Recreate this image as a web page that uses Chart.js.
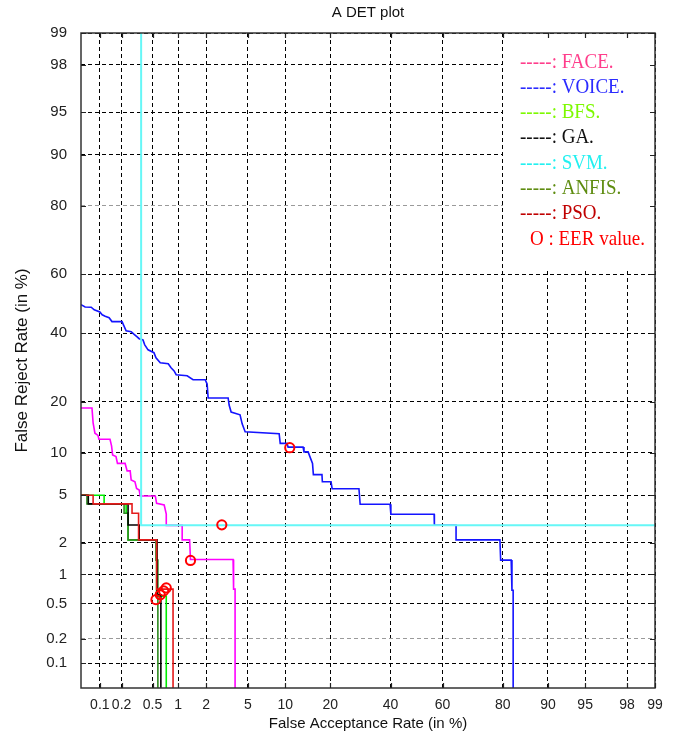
<!DOCTYPE html>
<html><head><meta charset="utf-8">
<script src="https://cdn.jsdelivr.net/npm/chart.js@4.4.1/dist/chart.umd.min.js"></script>
<style>html,body{margin:0;padding:0;background:#fff;}#wrap{width:676px;height:738px;position:relative;}</style>
</head><body><div id="wrap"><canvas id="c" width="676" height="738"></canvas></div>
<script>
// ---- tick values (percent) and labels ----
const tickPct = [0.1, 0.2, 0.5, 1, 2, 5, 10, 20, 40, 60, 80, 90, 95, 98, 99];
const tickLabels = ['0.1','0.2','0.5','1','2','5','10','20','40','60','80','90','95','98','99'];
const axisMinX = 0.053, axisMinY = 0.048, axisMax = 99;

// ---- series (False Acceptance %, False Reject %) ----
const seriesNames = ['FACE', 'VOICE', 'BFS', 'GA', 'SVM', 'ANFIS', 'PSO'];

const faceFar = [0.053,0.077,0.080,0.085,0.094,0.097,0.139,0.146,0.151,0.168,0.176,0.223,0.237,0.26,0.268,0.30,0.315,0.34,0.35,0.54,0.56,0.69,0.73,0.73,1.11,1.11,1.34,1.37,3.67,3.71,3.83,3.83];
const faceFrr = [18.5,18.5,15.3,13.3,12.9,12.2,12.2,11.1,9.7,9.45,8.5,8.5,7.55,7.55,6.5,6.3,5.62,5.48,4.93,4.93,4.32,4.19,3.54,2.84,2.84,2.12,2.12,1.40,1.40,0.71,0.71,0.048];

const voiceFar = [0.053,0.061,0.075,0.083,0.10,0.108,0.119,0.135,0.148,0.203,0.212,0.23,0.268,0.293,0.32,0.34,0.38,0.40,0.44,0.52,0.55,0.62,0.77,0.83,0.90,0.95,1.26,1.46,1.96,2.05,2.1,3.3,3.37,3.52,4.25,4.44,4.72,9.0,9.17,10.3,10.5,13.4,13.6,14.5,14.9,15.5,15.7,17.8,17.9,20.2,20.5,28.7,29.1,39.8,40.1,56.8,56.9,65.0,65.0,79.2,79.4,82.2,82.4,82.7,82.7];
const voiceFrr = [49.7,48.9,48.8,47.9,47.2,46.2,45.7,45.2,43.9,43.9,42.8,40.8,40.5,39.6,38.8,38.2,37.8,36.2,34.6,33.7,32.1,30.6,30.3,29.1,28.2,27.1,26.8,25.7,25.7,24.5,20.9,20.9,19.2,17.6,17.0,15.1,13.55,13.2,11.5,11.5,10.9,10.9,10.15,10.15,9.45,8.5,7.1,7.1,6.3,6.3,5.6,5.6,4.24,4.24,3.52,3.52,2.85,2.85,2.12,2.12,1.38,1.38,0.69,0.69,0.048];

const bfsFar = [0.053,0.115,0.115,0.23,0.23,0.244,0.244,0.56,0.56,0.73,0.73];
const bfsFrr = [4.99,4.99,4.27,4.27,3.59,3.59,2.12,2.12,0.60,0.60,0.048];

const gaFar = [0.053,0.068,0.068,0.244,0.244,0.34,0.34,0.567,0.567,0.63,0.63];
const gaFrr = [4.99,4.99,4.27,4.27,2.86,2.86,2.12,2.12,0.62,0.62,0.048];

const svmFar = [0.36, 0.36, 99];
const svmFrr = [99, 2.85, 2.85];

const anfisFar = [0.053,0.065,0.065,0.216,0.216,0.244,0.244,0.55,0.55,0.58,0.58];
const anfisFrr = [4.99,4.99,4.27,4.27,3.59,3.59,2.12,2.12,1.38,1.38,0.048];

const psoFar = [0.053,0.08,0.08,0.275,0.275,0.334,0.334,0.56,0.56,0.875,0.875];
const psoFrr = [4.99,4.99,4.27,4.27,3.59,3.59,2.12,2.12,0.71,0.71,0.048];

// Equal error rate points (x = y)
const eerValues = [10.8, 2.87, 1.37, 0.55, 0.62, 0.68, 0.73];

// ---- styles ----
const lineColors = {FACE:'#ff00ff', VOICE:'#1414ff', BFS:'#00ee00', GA:'#000000', SVM:'#66f7f7', ANFIS:'#2d8a1f', PSO:'#e41c1c'};
const legendColors = {FACE:'#ff3d8b', VOICE:'#2a2aff', BFS:'#7df900', GA:'#111111', SVM:'#22f0f0', ANFIS:'#5e8c10', PSO:'#c00000'};

// inverse normal CDF (Acklam)
function probit(p){
  const a=[-3.969683028665376e+01,2.209460984245205e+02,-2.759285104469687e+02,1.383577518672690e+02,-3.066479806614716e+01,2.506628277459239e+00];
  const b=[-5.447609879822406e+01,1.615858368580409e+02,-1.556989798598866e+02,6.680131188771972e+01,-1.328068155288572e+01];
  const c=[-7.784894002430293e-03,-3.223964580411365e-01,-2.400758277161838e+00,-2.549732539343734e+00,4.374664141464968e+00,2.938163982698783e+00];
  const d=[7.784695709041462e-03,3.224671290700398e-01,2.445134137142996e+00,3.754408661907416e+00];
  const pl=0.02425, ph=1-pl; let q,r;
  if(p<pl){q=Math.sqrt(-2*Math.log(p));return (((((c[0]*q+c[1])*q+c[2])*q+c[3])*q+c[4])*q+c[5])/((((d[0]*q+d[1])*q+d[2])*q+d[3])*q+1);}
  if(p<=ph){q=p-0.5;r=q*q;return (((((a[0]*r+a[1])*r+a[2])*r+a[3])*r+a[4])*r+a[5])*q/(((((b[0]*r+b[1])*r+b[2])*r+b[3])*r+b[4])*r+1);}
  q=Math.sqrt(-2*Math.log(1-p));return -(((((c[0]*q+c[1])*q+c[2])*q+c[3])*q+c[4])*q+c[5])/((((d[0]*q+d[1])*q+d[2])*q+d[3])*q+1);
}
const P = pct => probit(pct/100);
const pts = (xs, ys) => xs.map((v,i) => ({x:P(v), y:P(ys[i])}));

const seriesData = {
  FACE:[faceFar,faceFrr], VOICE:[voiceFar,voiceFrr], BFS:[bfsFar,bfsFrr], GA:[gaFar,gaFrr],
  SVM:[svmFar,svmFrr], ANFIS:[anfisFar,anfisFrr], PSO:[psoFar,psoFrr]
};
const drawOrder = {SVM:1, PSO:2, GA:3, ANFIS:4, BFS:5, FACE:6, VOICE:7};

const datasets = seriesNames.map(n => ({
  label: n,
  data: pts(seriesData[n][0], seriesData[n][1]),
  showLine: true,
  borderColor: lineColors[n],
  backgroundColor: lineColors[n],
  borderWidth: n === 'SVM' ? 2 : 1.6,
  pointRadius: 0,
  tension: 0,
  order: drawOrder[n]
}));
datasets.push({
  label: 'EER',
  data: pts(eerValues, eerValues),
  showLine: false,
  pointRadius: 4.6,
  pointStyle: 'circle',
  pointBorderColor: '#ff0000',
  pointBackgroundColor: 'rgba(0,0,0,0)',
  pointBorderWidth: 2,
  borderColor: '#ff0000',
  backgroundColor: 'rgba(0,0,0,0)',
  order: 0
});

const grayYTicks = [80, 0.2];

const detPlugin = {
  id: 'detDecor',
  afterDatasetsDraw(chart){
    const {ctx, chartArea: a, scales: {x, y}} = chart;
    ctx.save();
    // legend box (opaque, covers grid)
    ctx.fillStyle = '#ffffff';
    ctx.fillRect(a.right - 152, a.top + 1, 151, 234);
    const stretched = (t, px, py) => { ctx.save(); ctx.translate(px, py); ctx.scale(1, 1.12); ctx.fillText(t, 0, 0); ctx.restore(); };
    ctx.font = '19px "Liberation Serif", "Times New Roman", serif';
    ctx.textBaseline = 'middle'; ctx.textAlign = 'left';
    seriesNames.forEach((n, i) => {
      ctx.fillStyle = legendColors[n];
      stretched('-----: ' + n + '.', a.right - 135, a.top + 29 + 25.3 * i);
    });
    ctx.fillStyle = '#ff0000';
    stretched('O : EER value.', a.right - 125, a.top + 29 + 25.3 * 7);
    // frame
    ctx.strokeStyle = '#333'; ctx.lineWidth = 1.5; ctx.setLineDash([]);
    ctx.strokeRect(a.left, a.top, a.right - a.left, a.bottom - a.top);
    // inward tick marks on all four sides
    ctx.lineWidth = 1.2; ctx.strokeStyle = '#222';
    ctx.beginPath();
    tickPct.forEach(v => {
      const px = Math.round(x.getPixelForValue(P(v))) + 0.5;
      ctx.moveTo(px, a.bottom); ctx.lineTo(px, a.bottom - 5);
      ctx.moveTo(px, a.top); ctx.lineTo(px, a.top + 5);
      const py = Math.round(y.getPixelForValue(P(v))) + 0.5;
      ctx.moveTo(a.left, py); ctx.lineTo(a.left + 5, py);
      ctx.moveTo(a.right, py); ctx.lineTo(a.right - 5, py);
    });
    ctx.stroke();
    ctx.restore();
  }
};

const fam = '"Liberation Sans", Arial, sans-serif';

new Chart(document.getElementById('c'), {
  type: 'scatter',
  data: {datasets},
  plugins: [detPlugin],
  options: {
    responsive: false,
    animation: false,
    layout: {padding: {left: 0, right: 21, top: 0, bottom: 0}},
    plugins: {
      legend: {display: false},
      tooltip: {enabled: false},
      title: {display: true, text: 'A DET plot', fullSize: false, color: '#111',
        font: {family: fam, size: 15, weight: 'normal'},
        padding: {top: 4, bottom: 11}}
    },
    scales: {
      x: {
        type: 'linear', min: P(axisMinX), max: P(axisMax),
        afterBuildTicks: s => { s.ticks = tickPct.map(v => ({value: P(v)})); },
        afterFit: s => { s.height = 50; },
        ticks: {autoSkip: false, maxRotation: 0, minRotation: 0, padding: 9, color: '#222', font: {family: fam, size: 14},
          callback: (v, i) => tickLabels[i]},
        grid: {color: '#000', lineWidth: 1, drawTicks: false},
        border: {display: false, dash: [4, 3]},
        title: {display: true, text: 'False Acceptance Rate (in %)', color: '#111',
          font: {family: fam, size: 15}, padding: {top: 0, bottom: 5}}
      },
      y: {
        type: 'linear', min: P(axisMinY), max: P(axisMax),
        afterBuildTicks: s => { s.ticks = tickPct.map(v => ({value: P(v)})); },
        afterFit: s => { s.width = 81; },
        ticks: {autoSkip: false, padding: 14, color: '#222', font: {family: fam, size: 15},
          callback: (v, i) => tickLabels[i]},
        grid: {color: c => (c.tick && grayYTicks.some(g => Math.abs(P(g) - c.tick.value) < 1e-9)) ? '#9a9a9a' : '#000',
          lineWidth: 1, drawTicks: false},
        border: {display: false, dash: [4, 3]},
        title: {display: true, text: 'False Reject Rate (in %)', color: '#111',
          font: {family: fam, size: 17}, padding: {top: 12, bottom: 0}}
      }
    }
  }
});
</script></body></html>
